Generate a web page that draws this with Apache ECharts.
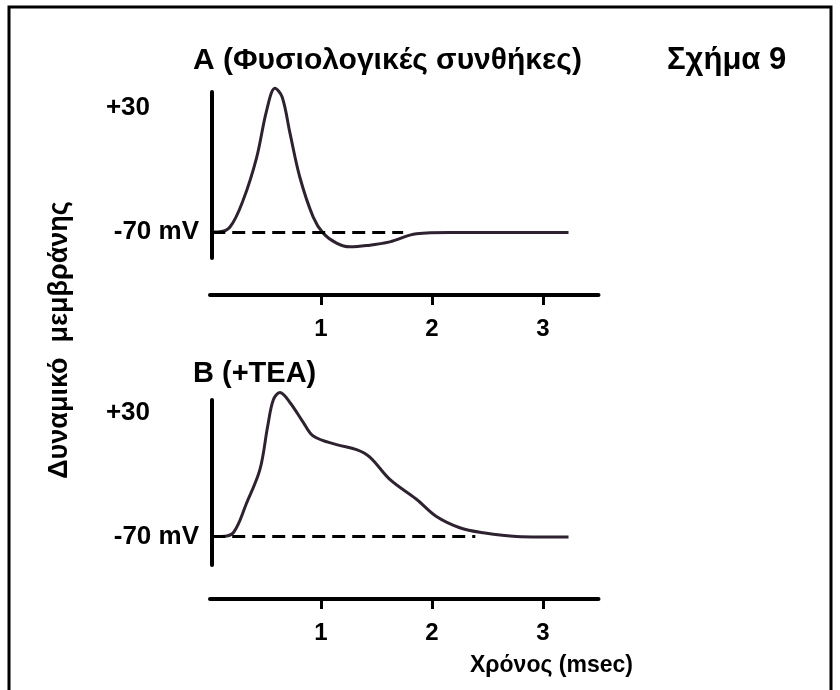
<!DOCTYPE html>
<html>
<head>
<meta charset="utf-8">
<script src="https://cdn.jsdelivr.net/npm/echarts@6/dist/echarts.min.js"></script>
<style>
html,body{margin:0;padding:0;background:#fff;}
#chart{width:840px;height:690px;}
</style>
</head>
<body>
<div id="chart"></div>
<script>
// ---- data ----
const timeTicks = [1, 2, 3];
const yLabelValues = [30, -70];
const restPotential = -70;
const dashEndA = 1.74;
const dashEndB = 2.39;
const traceA = [
  [0.02,-70],[0.07,-70],[0.18,-66],[0.30,-44],[0.42,-10],[0.51,28],[0.585,46],[0.65,39],
  [0.72,10],[0.81,-26],[0.93,-58],[1.02,-71],[1.14,-79],[1.26,-82],[1.41,-81],[1.62,-78],
  [1.86,-71.5],[2.16,-70.5],[3.23,-70.5]
];
const traceB = [
  [0.02,-70],[0.10,-70],[0.21,-67],[0.33,-43],[0.45,-16],[0.52,19],[0.57,40],[0.63,46],
  [0.72,38],[0.84,22],[0.93,11],[1.14,4],[1.32,0],[1.44,-6],[1.62,-24],[1.86,-40],
  [2.04,-54],[2.25,-63],[2.46,-67],[2.76,-70],[3.23,-70.5]
];
const titleA = 'A (Φυσιολογικές συνθήκες)';
const titleB = 'B (+TEA)';
const figTitle = 'Σχήμα 9';
const yName = 'Δυναμικό  μεμβράνης';
const xName = 'Χρόνος (msec)';

const FONT = '"Liberation Sans", Arial, sans-serif';
const chart = echarts.init(document.getElementById('chart'), null, {renderer:'canvas'});

function xAxisCfg(gridIndex, offset){
  return {
    type:'value', gridIndex, min:0, max:3.5, position:'bottom', offset,
    axisLine:{show:true, onZero:false, lineStyle:{color:'#000', width:4}},
    axisTick:{show:true, customValues: timeTicks, length:10, lineStyle:{color:'#000', width:3}},
    axisLabel:{show:true, customValues: timeTicks, margin:22, color:'#000',
      fontFamily:FONT, fontWeight:'bold', fontSize:24},
    splitLine:{show:false}
  };
}
function yAxisCfg(gridIndex, min, max){
  return {
    type:'value', gridIndex, min, max, offset:-2,
    axisLine:{show:true, lineStyle:{color:'#000', width:4}},
    axisTick:{show:false},
    splitLine:{show:false},
    axisLabel:{show:true, customValues: yLabelValues, margin:13,
      formatter: v => v > 0 ? '{a|+' + v + '}' : '{b|' + v + ' mV}',
      rich:{
        a:{color:'#000', fontFamily:FONT, fontWeight:'bold', fontSize:26, padding:[0,49,0,0]},
        b:{color:'#000', fontFamily:FONT, fontWeight:'bold', fontSize:26}
      }
    }
  };
}
function trace(idx, data, dashEnd){
  return {
    type:'line', xAxisIndex:idx, yAxisIndex:idx, data, smooth:0.35, showSymbol:false,
    clip:false, silent:true,
    lineStyle:{color:'#2e2230', width:3},
    markLine:{
      silent:true, symbol:'none', label:{show:false},
      lineStyle:{color:'#000', width:3, type:[13,7]},
      data:[[{coord:[0.02, restPotential]},{coord:[dashEnd, restPotential]}]]
    },
    z:3
  };
}

const option = {
  animation:false,
  backgroundColor:'#fff',
  title:[
    {text:titleA, left:193, top:46, padding:0, textStyle:{fontFamily:FONT, fontWeight:'bold', fontSize:30, color:'#000'}},
    {text:figTitle, left:667, top:45, padding:0, textStyle:{fontFamily:FONT, fontWeight:'bold', fontSize:31, color:'#000'}},
    {text:titleB, left:193, top:359, padding:0, textStyle:{fontFamily:FONT, fontWeight:'bold', fontSize:29, color:'#000'}},
    {text:xName, left:470, top:654, padding:0, textStyle:{fontFamily:FONT, fontWeight:'bold', fontSize:23, color:'#000'}}
  ],
  graphic:[
    {type:'rect', shape:{x:9, y:7, width:822, height:700}, style:{fill:null, stroke:'#000', lineWidth:3}, silent:true},
    {type:'text', x:60, y:340, rotation:Math.PI/2, style:{text:yName, fontFamily:FONT, fontWeight:'bold', fontSize:27,
      fill:'#000', align:'center', verticalAlign:'middle'}, silent:true}
  ],
  grid:[
    {left:210, top:92, width:388.5, height:166},
    {left:210, top:400, width:388.5, height:165}
  ],
  xAxis:[xAxisCfg(0,37), xAxisCfg(1,34)],
  yAxis:[yAxisCfg(0,-91,43), yAxisCfg(1,-93,40)],
  series:[trace(0, traceA, dashEndA), trace(1, traceB, dashEndB)]
};
chart.setOption(option);
</script>
</body>
</html>
